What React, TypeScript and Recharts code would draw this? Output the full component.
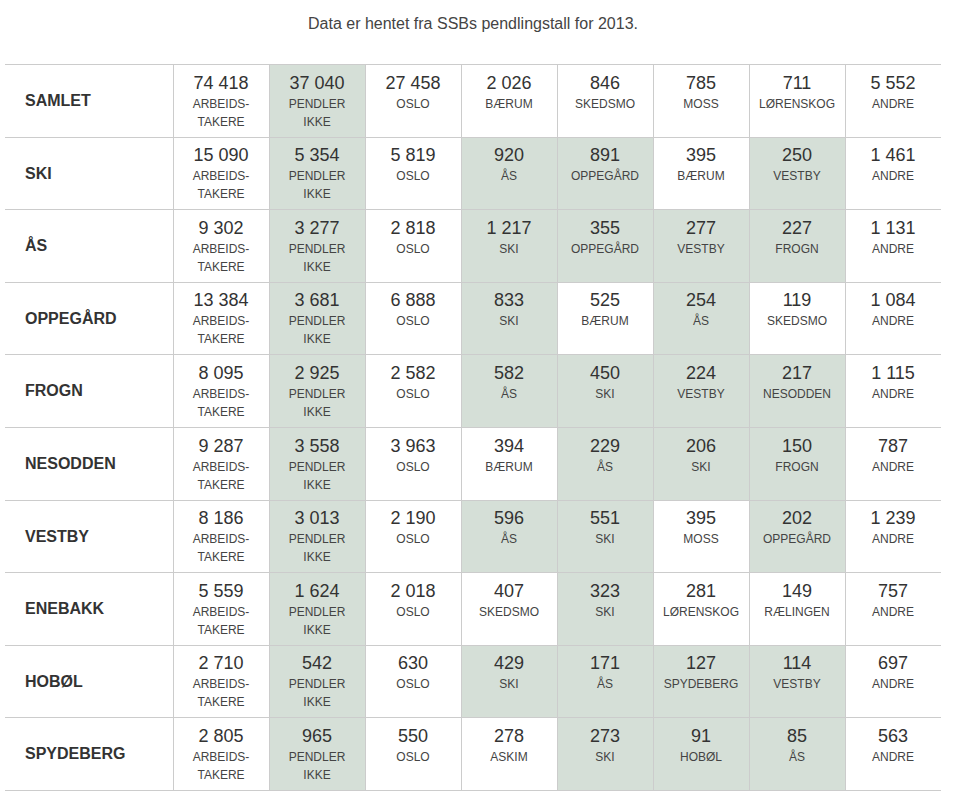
import React from 'react';
import { BarChart, Bar, XAxis, YAxis } from 'recharts';

// ---- Data ----
const rowNames = ['SAMLET', 'SKI', 'ÅS', 'OPPEGÅRD', 'FROGN', 'NESODDEN', 'VESTBY', 'ENEBAKK', 'HOBØL', 'SPYDEBERG'];
const workers = [74418, 15090, 9302, 13384, 8095, 9287, 8186, 5559, 2710, 2805];
const nonCommuters = [37040, 5354, 3277, 3681, 2925, 3558, 3013, 1624, 542, 965];
const toOslo = [27458, 5819, 2818, 6888, 2582, 3963, 2190, 2018, 630, 550];
const dest1Names = ['BÆRUM', 'ÅS', 'SKI', 'SKI', 'ÅS', 'BÆRUM', 'ÅS', 'SKEDSMO', 'SKI', 'ASKIM'];
const dest1Values = [2026, 920, 1217, 833, 582, 394, 596, 407, 429, 278];
const dest2Names = ['SKEDSMO', 'OPPEGÅRD', 'OPPEGÅRD', 'BÆRUM', 'SKI', 'ÅS', 'SKI', 'SKI', 'ÅS', 'SKI'];
const dest2Values = [846, 891, 355, 525, 450, 229, 551, 323, 171, 273];
const dest3Names = ['MOSS', 'BÆRUM', 'VESTBY', 'ÅS', 'VESTBY', 'SKI', 'MOSS', 'LØRENSKOG', 'SPYDEBERG', 'HOBØL'];
const dest3Values = [785, 395, 277, 254, 224, 206, 395, 281, 127, 91];
const dest4Names = ['LØRENSKOG', 'VESTBY', 'FROGN', 'SKEDSMO', 'NESODDEN', 'FROGN', 'OPPEGÅRD', 'RÆLINGEN', 'VESTBY', 'ÅS'];
const dest4Values = [711, 250, 227, 119, 217, 150, 202, 149, 114, 85];
const otherValues = [5552, 1461, 1131, 1084, 1115, 787, 1239, 757, 697, 563];
const regionMunicipalities = ['SKI', 'ÅS', 'OPPEGÅRD', 'FROGN', 'NESODDEN', 'VESTBY', 'ENEBAKK', 'HOBØL', 'SPYDEBERG'];
const title = 'Data er hentet fra SSBs pendlingstall for 2013.';

// ---- Styling ----
const FONT = '"Liberation Sans", Arial, Helvetica, sans-serif';
const GRID = '#cccccc';
const SHADE = '#d5dfd7';
const LABEL_UNITS = 1.75; // label column is 1.75x a data column
const N_COLS = 8;

type ColDef = { values: number[]; sub: (i: number) => string[]; shaded: (i: number) => boolean };

const columns: ColDef[] = [
  { values: workers, sub: () => ['ARBEIDS-', 'TAKERE'], shaded: () => false },
  { values: nonCommuters, sub: () => ['PENDLER', 'IKKE'], shaded: () => true },
  { values: toOslo, sub: () => ['OSLO'], shaded: () => false },
  { values: dest1Values, sub: (i) => [dest1Names[i]], shaded: (i) => regionMunicipalities.includes(dest1Names[i]) },
  { values: dest2Values, sub: (i) => [dest2Names[i]], shaded: (i) => regionMunicipalities.includes(dest2Names[i]) },
  { values: dest3Values, sub: (i) => [dest3Names[i]], shaded: (i) => regionMunicipalities.includes(dest3Names[i]) },
  { values: dest4Values, sub: (i) => [dest4Names[i]], shaded: (i) => regionMunicipalities.includes(dest4Names[i]) },
  { values: otherValues, sub: () => ['ANDRE'], shaded: () => false },
];

const fmt = (n: number) => String(n).replace(/\B(?=(\d{3})+(?!\d))/g, ' ');

const chartData = rowNames.map((name, idx) => {
  const row: any = { name, idx, label: LABEL_UNITS };
  for (let c = 0; c < N_COLS; c++) row['c' + c] = 1;
  return row;
});

const r = (v: number) => Math.round(v) + 0.5;

const LabelShape = (props: any) => {
  const { x, y, width, height, payload } = props;
  const x1 = Math.round(x);
  const x2 = Math.round(x + width) + 1;
  return (
    <g>
      <rect x={x} y={y} width={width} height={height} fill="#ffffff" />
      <line x1={x1} x2={x2} y1={r(y)} y2={r(y)} stroke={GRID} strokeWidth={1} />
      <line x1={x1} x2={x2} y1={r(y + height)} y2={r(y + height)} stroke={GRID} strokeWidth={1} />
      <text
        x={x + 20}
        y={y + 42}
        fontFamily={FONT}
        fontSize={16}
        fontWeight="bold"
        fill="#333333"
      >
        {payload.name}
      </text>
    </g>
  );
};

const makeCellShape = (col: number) => (props: any) => {
  const { x, y, width, height, payload } = props;
  const i = payload.idx;
  const def = columns[col];
  const left = r(x);
  const top = r(y);
  const w = r(x + width) - left;
  const h = r(y + height) - top;
  const cx = x + width / 2;
  const subs = def.sub(i);
  return (
    <g>
      <rect x={left} y={top} width={w} height={h} fill={def.shaded(i) ? SHADE : '#ffffff'} stroke={GRID} strokeWidth={1} />
      <text x={cx} y={y + 24.5} textAnchor="middle" fontFamily={FONT} fontSize={18} fill="#333333">
        {fmt(def.values[i])}
      </text>
      {subs.map((s, k) => (
        <text key={k} x={cx} y={y + 43.5 + k * 18} textAnchor="middle" fontFamily={FONT} fontSize={12} fill="#444444">
          {s}
        </text>
      ))}
    </g>
  );
};

const cellShapes = Array.from({ length: N_COLS }, (_, c) => makeCellShape(c));

export default function App() {
  return (
    <div style={{ position: 'absolute', left: 0, top: 0, width: 966, height: 800, background: '#ffffff' }}>
      <svg width={966} height={44} style={{ position: 'absolute', left: 0, top: 0 }}>
        <text x={473} y={28.5} textAnchor="middle" fontFamily={FONT} fontSize={16} fill="#444444">
          {title}
        </text>
      </svg>
      <div style={{ position: 'absolute', left: 0, top: 0 }}>
        <BarChart
          width={966}
          height={800}
          data={chartData}
          layout="vertical"
          margin={{ top: 64, right: 25, bottom: 10, left: 5 }}
          barCategoryGap={0}
          barGap={0}
        >
          <XAxis type="number" hide domain={[0, LABEL_UNITS + N_COLS]} allowDataOverflow />
          <YAxis type="category" dataKey="name" hide />
          <Bar dataKey="label" stackId="t" isAnimationActive={false} shape={LabelShape} />
          {cellShapes.map((shape, c) => (
            <Bar key={c} dataKey={'c' + c} stackId="t" isAnimationActive={false} shape={shape} />
          ))}
        </BarChart>
      </div>
    </div>
  );
}
